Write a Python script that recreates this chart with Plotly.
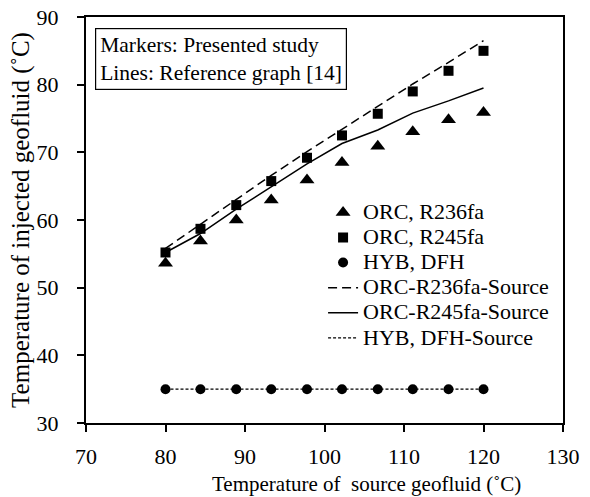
import plotly.graph_objects as go

# Data
source_T = [80.0, 84.4, 88.9, 93.3, 97.8, 102.2, 106.7, 111.1, 115.6, 120.0]
orc_r236fa = [53.6, 56.9, 60.0, 62.95, 65.9, 68.5, 70.9, 73.05, 74.8, 75.9]
orc_r245fa = [55.2, 58.7, 62.2, 65.75, 69.2, 72.5, 75.7, 79.0, 82.05, 85.0]
hyb_dfh = [35.0, 35.0, 35.0, 35.0, 35.0, 35.0, 35.0, 35.0, 35.0, 35.0]

ref_r236fa = [55.8, 59.4, 63.0, 66.6, 70.1, 73.4, 76.8, 80.1, 83.3, 86.5]
ref_r245fa = [55.2, 58.0, 61.6, 64.9, 68.3, 71.3, 73.3, 75.8, 77.6, 79.5]
ref_hyb = [35.0, 35.0, 35.0, 35.0, 35.0, 35.0, 35.0, 35.0, 35.0, 35.0]

x_ticks = [70, 80, 90, 100, 110, 120, 130]
y_ticks = [30, 40, 50, 60, 70, 80, 90]

FONT = "Liberation Serif, Times New Roman, serif"


def leg(name):
    return '<span style="font-size:22px">' + name + '</span>'


fig = go.Figure()

fig.add_trace(go.Scatter(x=source_T, y=ref_r236fa, mode="lines", name=leg("ORC-R236fa-Source"),
                         line=dict(color="black", width=1.5, dash="9px,5px"), legendrank=4))
fig.add_trace(go.Scatter(x=source_T, y=ref_r245fa, mode="lines", name=leg("ORC-R245fa-Source"),
                         line=dict(color="black", width=1.5), legendrank=5))
fig.add_trace(go.Scatter(x=source_T, y=ref_hyb, mode="lines", name=leg("HYB, DFH-Source"),
                         line=dict(color="black", width=1.3, dash="3px,2px"), legendrank=6))

fig.add_trace(go.Scatter(x=source_T, y=orc_r236fa, mode="markers", name=leg("ORC, R236fa"),
                         marker=dict(symbol="triangle-up", size=13, color="black"), legendrank=1))
fig.add_trace(go.Scatter(x=source_T, y=orc_r245fa, mode="markers", name=leg("ORC, R245fa"),
                         marker=dict(symbol="square", size=10, color="black"), legendrank=2))
fig.add_trace(go.Scatter(x=source_T, y=hyb_dfh, mode="markers", name=leg("HYB, DFH"),
                         marker=dict(symbol="circle", size=10, color="black"), legendrank=3))

fig.update_layout(
    width=590, height=497,
    margin=dict(l=86, r=27, t=17, b=74, autoexpand=False),
    paper_bgcolor="white", plot_bgcolor="white",
    font=dict(family=FONT, size=22, color="black"),
    showlegend=True,
    legend=dict(x=0.497, y=0.562, xanchor="left", yanchor="top",
                bgcolor="rgba(0,0,0,0)", font=dict(family=FONT, size=17),
                tracegroupgap=0, itemwidth=30),
    xaxis=dict(range=[70, 130], tickvals=x_ticks, showgrid=False, zeroline=False,
               showline=True, linecolor="black", linewidth=2, mirror=True,
               ticks="outside", ticklen=7, tickwidth=1.5, tickcolor="black",
               tickfont=dict(family=FONT, size=22), ticklabelstandoff=6,
               automargin=False),
    yaxis=dict(range=[30, 90], tickvals=y_ticks, showgrid=False, zeroline=False,
               showline=True, linecolor="black", linewidth=2, mirror=True,
               ticks="outside", ticklen=7, tickwidth=1.5, tickcolor="black",
               tickfont=dict(family=FONT, size=22), ticklabelstandoff=14,
               automargin=False,
               title=dict(text="Temperature of injected geofluid (˚C)",
                          font=dict(family=FONT, size=25), standoff=0)),
    annotations=[
        dict(text="Markers: Presented study<br>Lines: Reference graph [14]",
             xref="paper", yref="paper", x=0.019, y=0.973, xanchor="left", yanchor="top",
             align="left", showarrow=False, font=dict(family=FONT, size=21.5),
             bordercolor="black", borderwidth=1.2, borderpad=4, bgcolor="white"),
        dict(text="Temperature of  source geofluid (˚C)",
             xref="paper", yref="paper", x=0.589, y=-0.116, xanchor="center", yanchor="top",
             showarrow=False, font=dict(family=FONT, size=21)),
    ],
)

fig.write_html("out.html")
